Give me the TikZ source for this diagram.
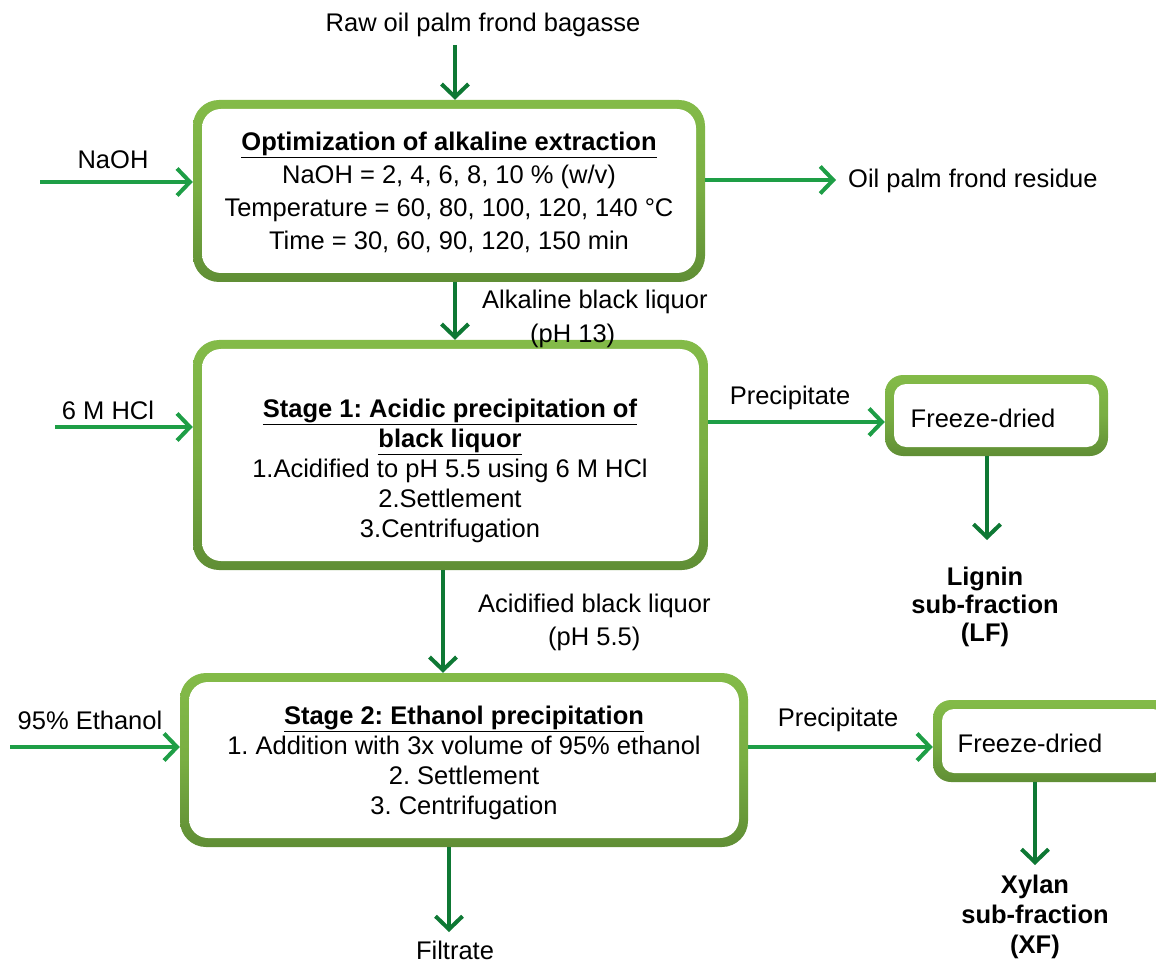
\documentclass[tikz,border=0pt]{standalone}
\usepackage{fontspec}
\setmainfont{Liberation Sans}
\usetikzlibrary{arrows.meta}
\definecolor{harrow}{RGB}{30,158,70}
\definecolor{varrow}{RGB}{14,120,52}
\definecolor{rimtop}{RGB}{142,200,78}
\definecolor{rimbot}{RGB}{72,112,40}
\pgfdeclareverticalshading{boxfill}{100bp}{color(0bp)=(black!25); color(12bp)=(black!6); color(22bp)=(white); color(100bp)=(white)}
\pgfdeclareverticalshading{rimfill}{100bp}{color(0bp)=(rimbot); color(12bp)=(rimbot!85!rimtop); color(50bp)=(rimtop!70!rimbot); color(100bp)=(rimtop)}
\frenchspacing
\begin{document}
\begin{tikzpicture}[x=1pt,y=-1pt,
  rim/.style={rounded corners=26pt, inner sep=0pt, shading=rimfill, draw=none},
  inbox/.style={rounded corners=19pt, inner sep=0pt, shading=boxfill, draw=none},
  txt/.style={font=\fontsize{25.5}{33}\selectfont, align=center, inner sep=0pt},
  btxt/.style={font=\fontsize{25.5}{30}\selectfont\bfseries, align=center, inner sep=0pt},
  harr/.style={draw=harrow, line width=4pt, -{Straight Barb[length=13pt,width=27pt]}},
  varr/.style={draw=varrow, line width=4pt, -{Straight Barb[length=13pt,width=27pt]}}]
\useasboundingbox (0,0) rectangle (1156,965);
\clip (0,0) rectangle (1156,965);

% boxes
\node[rim, minimum width=512, minimum height=182] (box1) at (449,191) {};
\node[inbox, minimum width=494, minimum height=164] (box1in) at (box1) {};
\node[txt] (box1txt) at (449,192) {\underline{\textbf{Optimization of alkaline extraction}}\\NaOH = 2, 4, 6, 8, 10 \% (w/v)\\Temperature = 60, 80, 100, 120, 140 °C\\Time = 30, 60, 90, 120, 150 min};

\node[rim, minimum width=515, minimum height=230] (box2) at (450.5,455) {};
\node[inbox, minimum width=497, minimum height=212] (box2in) at (box2) {};
\node[txt, font=\fontsize{25.5}{30}\selectfont] (box2txt) at (450,471) {\underline{\textbf{Stage 1: Acidic precipitation of}}\\\underline{\textbf{black liquor}}\\1.Acidified to pH 5.5 using 6 M HCl\\2.Settlement\\3.Centrifugation};

\node[rim, minimum width=568, minimum height=174] (box3) at (464,760) {};
\node[inbox, minimum width=550, minimum height=156] (box3in) at (box3) {};
\node[txt, font=\fontsize{25.5}{30}\selectfont] (box3txt) at (464,763) {\underline{\textbf{Stage 2: Ethanol precipitation}}\\1. Addition with 3x volume of 95\% ethanol\\2. Settlement\\3. Centrifugation};

\node[rim, rounded corners=18pt, minimum width=223, minimum height=81] (fd1) at (996.5,415.5) {};
\node[inbox, rounded corners=12pt, minimum width=205, minimum height=63] (fd1in) at (fd1) {};
\node[txt] (fd1txt) at (983,418) {Freeze-dried};

\node[rim, rounded corners=18pt, minimum width=241, minimum height=82] (fd2) at (1053.5,741) {};
\node[inbox, rounded corners=12pt, minimum width=223, minimum height=64] (fd2in) at (fd2) {};
\node[txt] (fd2txt) at (1030,743) {Freeze-dried};

% labels
\node[txt] (raw) at (483,25) {Raw oil palm frond bagasse};
\node[txt] (naoh) at (113,160) {NaOH};
\node[txt, anchor=west] (res) at (848,181) {Oil palm frond residue};
\node[txt, anchor=west] (alk1) at (482,302) {Alkaline black liquor};
\node[txt, anchor=west] (alk2) at (530,336) {(pH 13)};
\node[txt] (hcl) at (108,410) {6 M HCl};
\node[txt] (prec1) at (790,398) {Precipitate};
\node[btxt, font=\fontsize{25.5}{28}\selectfont\bfseries] (lf) at (985,607) {Lignin\\sub-fraction\\(LF)};
\node[txt, anchor=west] (acd1) at (478,606) {Acidified black liquor};
\node[txt, anchor=west] (acd2) at (548,639) {(pH 5.5)};
\node[txt] (etoh) at (90,720) {95\% Ethanol};
\node[txt] (prec2) at (838,720) {Precipitate};
\node[btxt] (xf) at (1035,917) {Xylan\\sub-fraction\\(XF)};
\node[txt] (filt) at (455,950) {Filtrate};

% connectors
\coordinate (rawarr) at (455,45);
\draw[varr] (rawarr) -- (rawarr |- box1.north);
\coordinate (naohs) at (40,182);
\draw[harr] (naohs) -- (naohs -| box1.west);
\coordinate (resend) at (836,180);
\draw[harr] (resend -| box1.east) -- (resend);
\coordinate (a12) at (455,300);
\draw[varr] (a12 |- box1.south) -- (a12 |- box2.north);
\coordinate (hcls) at (55,427);
\draw[harr] (hcls) -- (hcls -| box2.west);
\coordinate (p1) at (800,422);
\draw[harr] (p1 -| box2.east) -- (p1 -| fd1.west);
\coordinate (lfend) at (987,540);
\draw[varr] (lfend |- fd1.south) -- (lfend);
\coordinate (a23) at (443,620);
\draw[varr] (a23 |- box2.south) -- (a23 |- box3.north);
\coordinate (etohs) at (10,747);
\draw[harr] (etohs) -- (etohs -| box3.west);
\coordinate (p2) at (840,747);
\draw[harr] (p2 -| box3.east) -- (p2 -| fd2.west);
\coordinate (xfend) at (1035,865);
\draw[varr] (xfend |- fd2.south) -- (xfend);
\coordinate (filtend) at (449,932);
\draw[varr] (filtend |- box3.south) -- (filtend);
\end{tikzpicture}
\end{document}
